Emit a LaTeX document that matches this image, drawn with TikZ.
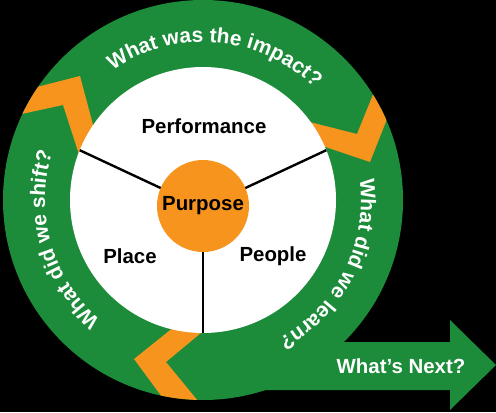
\documentclass[tikz,border=0pt]{standalone}
\usepackage{fontspec}
\setmainfont{Liberation Sans}
\usetikzlibrary{decorations.text}
\definecolor{ringgreen}{RGB}{28,140,58}
\definecolor{chevron}{RGB}{247,148,30}
\newcommand\ringfont{\fontsize{21}{21}\selectfont\bfseries}
\tikzset{
  ringtext/.style={decorate,decoration={text along path,text align=center,text color=white,text={|\ringfont|#1}}},
  sectorlabel/.style={font=\fontsize{20.5}{20.5}\selectfont\bfseries},
  spoke/.style={line width=2.4bp,black}
}
\begin{document}
\begin{tikzpicture}[x=1bp,y=1bp]
  \fill[black] (0,0) rectangle (496,412);
  \useasboundingbox (0,0) rectangle (496,412);
  \fill[ringgreen] (203,212) circle[radius=200];
  \fill[ringgreen] (240,70) -- (450,70) -- (450,92) -- (496,47) -- (450,2) -- (450,22) -- (240,22) -- cycle;
  \begin{scope}
    \clip (203,212) circle[radius=200];
    \fill[chevron] (9.5,318) -- (80,336) -- (100,261) -- (84,242) -- (63,307) -- (-6,292) -- cycle;
    \fill[chevron] (282,297) -- (357,278) -- (389,357) -- (402,331) -- (370,250) -- (290,277) -- cycle;
    \fill[chevron] (199,105) -- (134,53) -- (179,-8) -- (212,-6) -- (166,50) -- (231,104) -- cycle;
  \end{scope}
  \node[circle,fill=white,minimum size=266bp,inner sep=0pt,outer sep=0pt] (hub) at (203,212) {};
  \node[circle,fill=chevron,minimum size=92bp,inner sep=0pt,outer sep=0pt,sectorlabel] (purpose) at (203,206) {Purpose};
  \draw[spoke] (purpose.157) -- (hub.158);
  \draw[spoke] (purpose.23) -- (hub.22);
  \draw[spoke] (purpose.270) -- (hub.270);
  \node[sectorlabel] (performance) at (204,286) {Performance};
  \node[sectorlabel] (place) at (130,156) {Place};
  \node[sectorlabel] (people) at (273,156) {People};
  \path[ringtext={What was the impact?}] ([shift={(140:158)}]hub.center) arc[start angle=140,end angle=30,radius=158];
  \path[ringtext={What did we learn?}] ([shift={(32:158)}]hub.center) arc[start angle=32,end angle=-86,radius=158];
  \path[ringtext={What did we shift?}] ([shift={(255:158)}]hub.center) arc[start angle=255,end angle=137,radius=158];
  \node[sectorlabel,text=white] (next) at (401,46) {What’s Next?};
\end{tikzpicture}
\end{document}
